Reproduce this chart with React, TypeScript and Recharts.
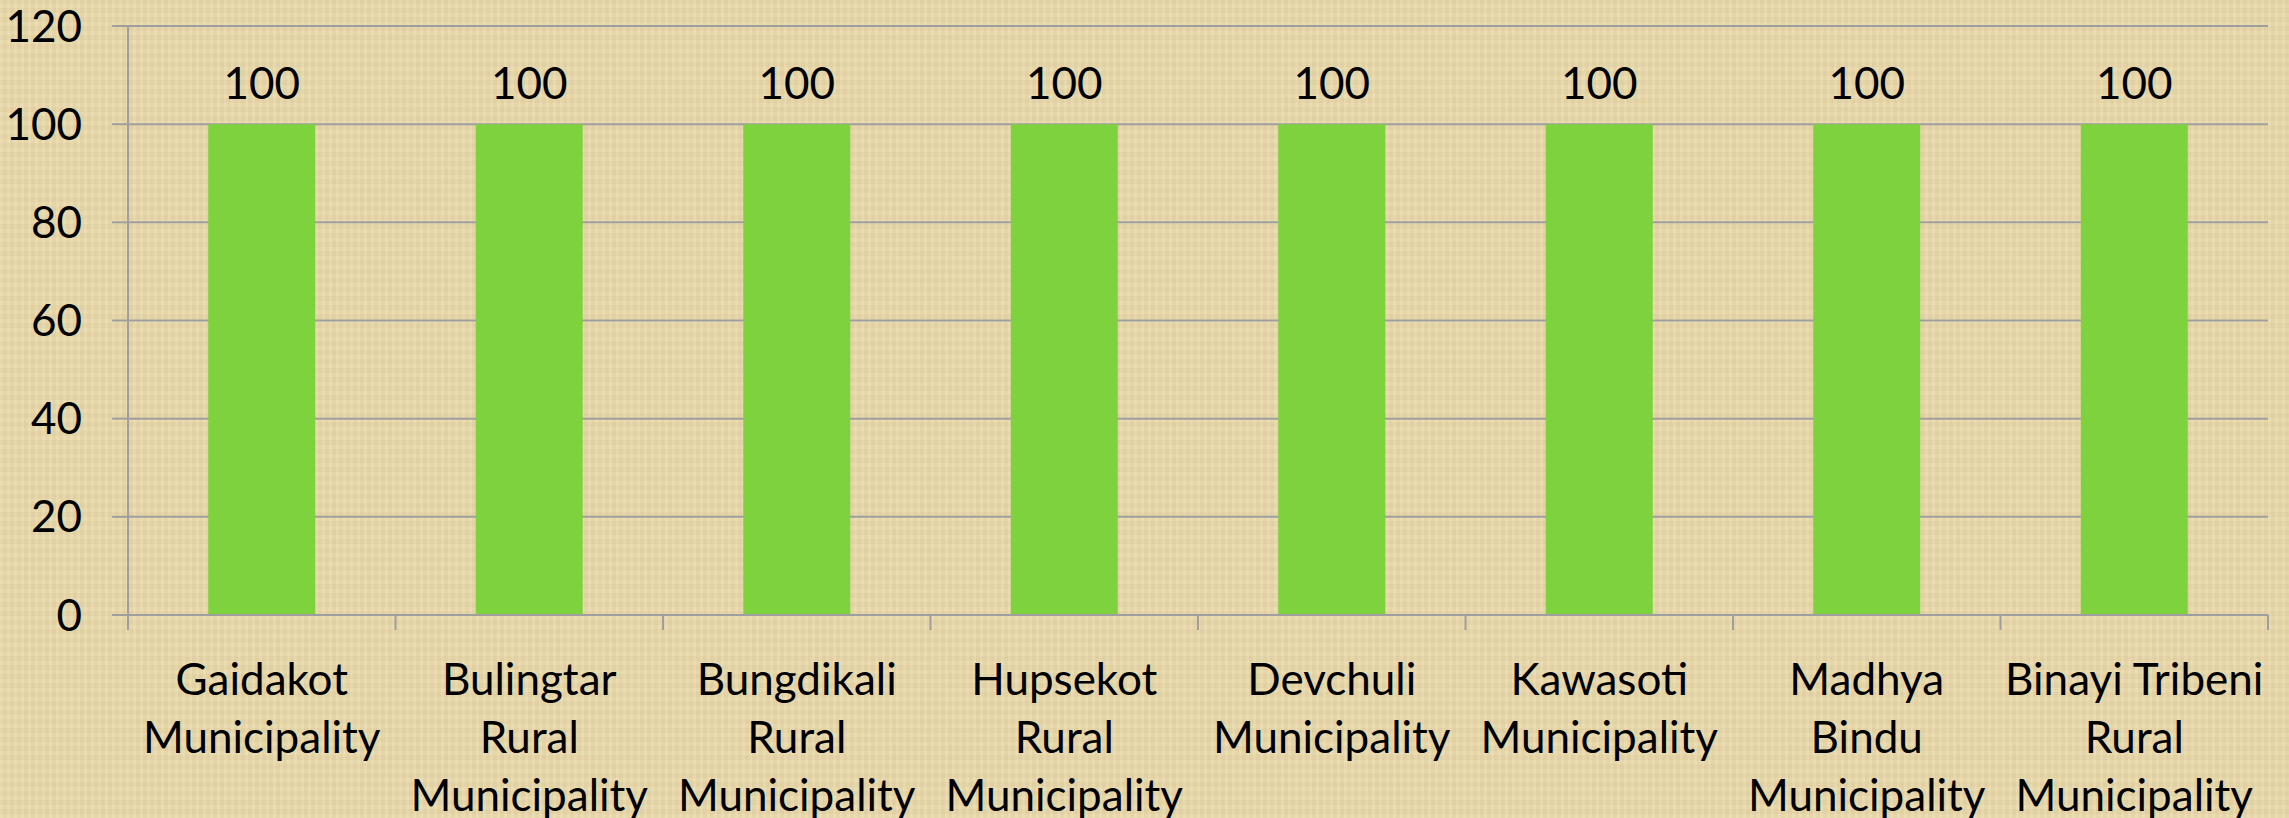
import { Bar, BarChart, CartesianGrid, LabelList, XAxis, YAxis } from "recharts";

const categories = [
  "Gaidakot Municipality",
  "Bulingtar Rural Municipality",
  "Bungdikali Rural Municipality",
  "Hupsekot Rural Municipality",
  "Devchuli Municipality",
  "Kawasoti Municipality",
  "Madhya Bindu Municipality",
  "Binayi Tribeni Rural Municipality",
];

// how the axis wraps each name
const categoryLines = [
  ["Gaidakot", "Municipality"],
  ["Bulingtar", "Rural", "Municipality"],
  ["Bungdikali", "Rural", "Municipality"],
  ["Hupsekot", "Rural", "Municipality"],
  ["Devchuli", "Municipality"],
  ["Kawasoti", "Municipality"],
  ["Madhya", "Bindu", "Municipality"],
  ["Binayi Tribeni", "Rural", "Municipality"],
];

const values = [100, 100, 100, 100, 100, 100, 100, 100];
const yTicks = [0, 20, 40, 60, 80, 100, 120];

const data = categories.map((name, i) => ({ name, value: values[i] }));

const W = 2289;
const H = 818;
const PLOT_LEFT = 128;
const PLOT_RIGHT = 2268;
const PLOT_TOP = 26;
const PLOT_BOTTOM = 615;
const BAND = (PLOT_RIGHT - PLOT_LEFT) / categories.length;

const FONT = "Lato, 'Open Sans', sans-serif";
const GRID = "#9f9f9f";

function CategoryTick(props: any) {
  const { x, y, payload } = props;
  const lines = categoryLines[payload.index] || [payload.value];
  const last = payload.index === categories.length - 1;
  return (
    <g>
      <line x1={x - BAND / 2} x2={x - BAND / 2} y1={y} y2={y + 15} stroke={GRID} strokeWidth={2} />
      {last && (
        <line x1={x + BAND / 2} x2={x + BAND / 2} y1={y} y2={y + 15} stroke={GRID} strokeWidth={2} />
      )}
      <text x={x} y={y + 80} textAnchor="middle" fontFamily={FONT} fontSize={44} fill="#000">
        {lines.map((l: string, i: number) => (
          <tspan key={i} x={x} dy={i === 0 ? 0 : 58}>
            {l}
          </tspan>
        ))}
      </text>
    </g>
  );
}

export default function App() {
  return (
    <div
      style={{
        position: "absolute",
        left: 0,
        top: 0,
        width: W,
        height: H,
        overflow: "hidden",
        background:
          "repeating-linear-gradient(90deg, rgba(255,255,255,0.06) 0px, rgba(255,255,255,0.06) 3px, rgba(0,0,0,0.02) 3px, rgba(0,0,0,0.02) 7px), repeating-linear-gradient(0deg, rgba(255,255,255,0.05) 0px, rgba(255,255,255,0.05) 4px, rgba(0,0,0,0.02) 4px, rgba(0,0,0,0.02) 9px), #e9d8a9",
      }}
    >
      <BarChart
        width={W}
        height={H}
        data={data}
        margin={{ top: PLOT_TOP, right: W - PLOT_RIGHT, left: 0, bottom: 0 }}
        barCategoryGap="30%"
      >
        <CartesianGrid vertical={false} stroke={GRID} strokeWidth={2} />
        <XAxis
          dataKey="name"
          interval={0}
          height={H - PLOT_BOTTOM}
          axisLine={{ stroke: GRID, strokeWidth: 2 }}
          tickLine={false}
          tickSize={0}
          tickMargin={0}
          tick={<CategoryTick />}
        />
        <YAxis
          width={PLOT_LEFT}
          domain={[0, 120]}
          ticks={yTicks}
          interval={0}
          axisLine={{ stroke: GRID, strokeWidth: 2 }}
          tickLine={{ stroke: GRID, strokeWidth: 2 }}
          tickSize={16}
          tickMargin={30}
          tick={{ fontFamily: FONT, fontSize: 44, fill: "#000" }}
        />
        <Bar dataKey="value" fill="#7ed23d" isAnimationActive={false}>
          <LabelList
            dataKey="value"
            position="top"
            offset={25}
            fontFamily={FONT}
            fontSize={44}
            fill="#000"
          />
        </Bar>
      </BarChart>
    </div>
  );
}
